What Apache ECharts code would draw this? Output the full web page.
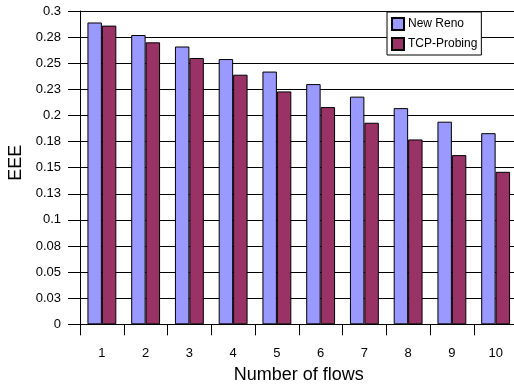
<!DOCTYPE html>
<html>
<head>
<meta charset="utf-8">
<script src="https://cdn.jsdelivr.net/npm/echarts@6/dist/echarts.min.js"></script>
<style>
  html, body { margin: 0; padding: 0; background: #fff; }
  #chart { width: 514px; height: 385px; }
</style>
</head>
<body>
<div id="chart"></div>
<script>
// Number of concurrent flows on the x axis
const flows = ['1', '2', '3', '4', '5', '6', '7', '8', '9', '10'];

// EEE per protocol
const newReno = [0.289, 0.277, 0.266, 0.254, 0.242, 0.230, 0.218, 0.207, 0.194, 0.183];
const tcpProbing = [0.286, 0.270, 0.255, 0.239, 0.223, 0.208, 0.193, 0.177, 0.162, 0.146];

// Value-axis labels, two decimals, one per 0.025 step
const yTickLabels = ['0', '0.03', '0.05', '0.08', '0.1', '0.13', '0.15', '0.18', '0.2', '0.23', '0.25', '0.28', '0.3'];

const FONT = '"Liberation Sans", Arial, sans-serif';

const chart = echarts.init(document.getElementById('chart'), null, { renderer: 'canvas' });

chart.setOption({
  animation: false,
  backgroundColor: '#ffffff',
  textStyle: { fontFamily: FONT, color: '#000' },
  grid: {
    left: 80, top: 11, width: 437.5, bottom: 60.7,
    containLabel: false,
    outerBoundsMode: 'none'
  },
  legend: {
    orient: 'vertical',
    left: 387,
    top: 12,
    padding: [5, 4, 4, 4],
    itemGap: 6,
    itemWidth: 12,
    itemHeight: 12,
    icon: 'rect',
    backgroundColor: '#ffffff',
    borderColor: '#000',
    borderWidth: 1,
    borderRadius: 0,
    textStyle: { fontFamily: FONT, fontSize: 12, color: '#000', padding: [0, 0, 0, -1] },
    data: ['New Reno', 'TCP-Probing']
  },
  xAxis: {
    type: 'category',
    data: flows,
    boundaryGap: true,
    name: 'Number of flows',
    nameLocation: 'middle',
    nameGap: 42,
    nameTextStyle: { fontFamily: FONT, fontSize: 18, color: '#000' },
    axisLine: { show: true, lineStyle: { color: '#000', width: 1 } },
    axisTick: { show: true, interval: 0, length: 11, lineStyle: { color: '#000', width: 1 } },
    axisLabel: { interval: 0, margin: 23, fontFamily: FONT, fontSize: 13, color: '#000' },
    splitLine: { show: false }
  },
  yAxis: {
    type: 'value',
    min: 0,
    max: 0.3,
    interval: 0.025,
    name: 'EEE',
    nameLocation: 'middle',
    nameGap: 46,
    nameTextStyle: { fontFamily: FONT, fontSize: 18, color: '#000', padding: [0, 0, 0, 10] },
    axisLine: { show: true, lineStyle: { color: '#000', width: 1 } },
    axisTick: { show: true, length: 12, lineStyle: { color: '#000', width: 1 } },
    axisLabel: {
      margin: 19,
      fontFamily: FONT,
      fontSize: 13,
      color: '#000',
      formatter: function (v, i) { return yTickLabels[i]; }
    },
    splitLine: { show: true, lineStyle: { color: '#000', width: 1 } }
  },
  series: [
    {
      name: 'New Reno',
      type: 'bar',
      data: newReno,
      barGap: '0%',
      barCategoryGap: '34%',
      itemStyle: { color: '#9999FF', borderColor: '#000', borderWidth: 1 }
    },
    {
      name: 'TCP-Probing',
      type: 'bar',
      data: tcpProbing,
      barGap: '0%',
      barCategoryGap: '34%',
      itemStyle: { color: '#993366', borderColor: '#000', borderWidth: 1 }
    }
  ]
});
</script>
</body>
</html>
